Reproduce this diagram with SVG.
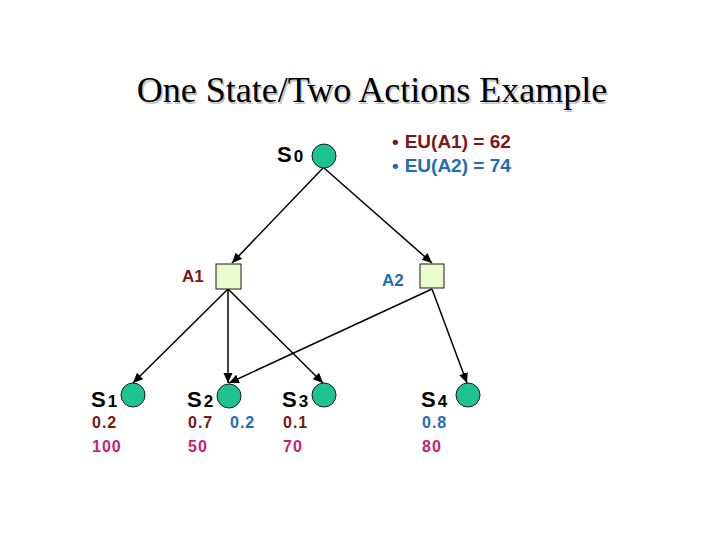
<svg xmlns="http://www.w3.org/2000/svg" width="720" height="540" viewBox="0 0 720 540">
<style>
.st{fill:#1dc28f;stroke:#1a1a1a;stroke-width:1}
.ac{fill:#e8fccc;stroke:#1a1a1a;stroke-width:1}
.ln{stroke:#000;stroke-width:1.5;fill:none;marker-end:url(#ah)}
.lab{font-family:"Liberation Sans",Arial,sans-serif;font-weight:bold;fill:#000}
.big{font-size:22px}
.sm{font-size:17px}
.red{fill:#7a1717}
.blue{fill:#1f6db5}
.mag{fill:#c81d77}
.num{font-family:"Liberation Sans",Arial,sans-serif;font-weight:bold;font-size:16px;letter-spacing:1px}
.eu{font-family:"Liberation Sans",Arial,sans-serif;font-weight:bold;font-size:19px}
.title{font-family:"Liberation Serif","Times New Roman",serif;font-size:36px}
</style>
<defs>
<marker id="ah" markerUnits="userSpaceOnUse" markerWidth="12" markerHeight="10" refX="10" refY="4.5" orient="auto">
<path d="M0,0 L10,4.5 L0,9 Z" fill="#000"/>
</marker>
</defs>
<rect width="720" height="540" fill="#fff"/>
<g id="title">
<text class="title" x="373.5" y="103.5" text-anchor="middle" fill="#c4c4c4">One State/Two Actions Example</text>
<text class="title" x="372" y="102" text-anchor="middle" fill="#000">One State/Two Actions Example</text>
</g>
<g id="connectors">
<line class="ln" x1="323" y1="168" x2="232" y2="263"/>
<line class="ln" x1="324" y1="168" x2="432" y2="263"/>
<line class="ln" x1="228" y1="289" x2="133" y2="383"/>
<line class="ln" x1="228" y1="289" x2="228" y2="383"/>
<line class="ln" x1="228" y1="289" x2="323" y2="383"/>
<line class="ln" x1="432" y1="289" x2="229" y2="383"/>
<line class="ln" x1="432" y1="289" x2="467" y2="383"/>
</g>
<g id="s0">
<circle class="st" cx="324" cy="156" r="12"/>
<text class="lab" x="277" y="162"><tspan class="big">S</tspan><tspan class="sm" dx="2">0</tspan></text>
</g>
<g id="eu">
<text class="eu red" x="392" y="148">•<tspan dx="6">EU(A1) = 62</tspan></text>
<text class="eu blue" x="392" y="172">•<tspan dx="6">EU(A2) = 74</tspan></text>
</g>
<g id="a1">
<rect class="ac" x="216" y="264" width="25" height="25"/>
<text class="lab red" x="182" y="282" font-size="17">A1</text>
</g>
<g id="a2">
<rect class="ac" x="420" y="264" width="24" height="24"/>
<text class="lab blue" x="382" y="286" font-size="17">A2</text>
</g>
<g id="s1">
<circle class="st" cx="133" cy="395" r="12"/>
<text class="lab" x="91" y="407"><tspan class="big">S</tspan><tspan class="sm" dx="2">1</tspan></text>
<text class="num red" x="92" y="428">0.2</text>
<text class="num mag" x="92" y="452">100</text>
</g>
<g id="s2">
<circle class="st" cx="229" cy="396" r="12"/>
<text class="lab" x="187" y="407"><tspan class="big">S</tspan><tspan class="sm" dx="2">2</tspan></text>
<text class="num red" x="188" y="428">0.7</text>
<text class="num blue" x="230" y="428">0.2</text>
<text class="num mag" x="188" y="452">50</text>
</g>
<g id="s3">
<circle class="st" cx="324" cy="395" r="12"/>
<text class="lab" x="282" y="407"><tspan class="big">S</tspan><tspan class="sm" dx="2">3</tspan></text>
<text class="num red" x="283" y="428">0.1</text>
<text class="num mag" x="283" y="452">70</text>
</g>
<g id="s4">
<circle class="st" cx="468" cy="395" r="12"/>
<text class="lab" x="421" y="407"><tspan class="big">S</tspan><tspan class="sm" dx="2">4</tspan></text>
<text class="num blue" x="422" y="428">0.8</text>
<text class="num mag" x="422" y="452">80</text>
</g>
</svg>
